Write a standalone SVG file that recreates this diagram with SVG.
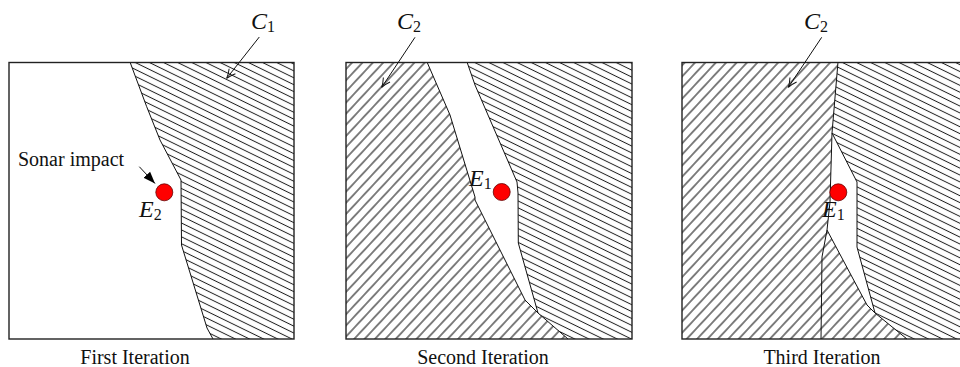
<svg xmlns="http://www.w3.org/2000/svg" width="960" height="367" viewBox="0 0 960 367">
<style>
.box{fill:none;stroke:#222;stroke-width:1.4}
.edge{fill:none;stroke:#111;stroke-width:1}
.dot{fill:#f00;stroke:#600;stroke-width:0.8}
.cap{font-family:"Liberation Serif","Times New Roman",serif;font-size:20px;fill:#111}
.math{font-family:"Liberation Serif","Times New Roman",serif;font-size:24px;fill:#111}
.math .v{font-style:italic}
.math .s{font-size:16px}
.conn{fill:none;stroke:#111;stroke-width:1}
</style>
<defs>
<pattern id="hb" patternUnits="userSpaceOnUse" width="20" height="6.2" patternTransform="rotate(26)">
<line x1="-5" y1="3.1" x2="25" y2="3.1" stroke="#222" stroke-width="1"/>
</pattern>
<pattern id="hf" patternUnits="userSpaceOnUse" width="20" height="7.6" patternTransform="rotate(-47)">
<line x1="-5" y1="3.8" x2="25" y2="3.8" stroke="#1a1a1a" stroke-width="1.1"/>
</pattern>
<marker id="open" markerWidth="12" markerHeight="12" refX="10" refY="6" orient="auto" markerUnits="userSpaceOnUse">
<path d="M1,2 Q6,5 10,6 Q6,7 1,10" fill="none" stroke="#111" stroke-width="1"/>
</marker>
<marker id="solid" markerWidth="14" markerHeight="10" refX="12" refY="5" orient="auto" markerUnits="userSpaceOnUse">
<path d="M0,0.5 L12,5 L0,9.5 Z" fill="#000"/>
</marker>
</defs>
<rect width="960" height="367" fill="#fff"/>

<g id="panel1">
<path fill="url(#hb)" d="M130,62 L136.7,80 L146.7,106.7 L160,140 L181,180 L181.5,245 L207,328 L213,339 L294,339 L294,62 Z"/>
<path class="edge" d="M130,62 L136.7,80 L146.7,106.7 L160,140 L181,180 L181.5,245 L207,328 L213,339"/>
<rect class="box" x="9" y="62.5" width="285" height="276.5"/>
<circle class="dot" cx="164.3" cy="192.3" r="8.5"/>
<text class="math" x="139" y="217"><tspan class="v">E</tspan><tspan class="s" dy="3">2</tspan></text>
<text class="cap" x="18" y="166">Sonar impact</text>
<text class="math" x="251" y="29"><tspan class="v">C</tspan><tspan class="s" dy="3">1</tspan></text>
<text class="cap" x="135" y="364" text-anchor="middle">First Iteration</text>
</g>

<g id="panel2">
<path fill="url(#hf)" d="M346,62 L427,62 L450,115 L475,197 L475,200 L525,300 L538,313 L568,339 L346,339 Z"/>
<path fill="url(#hb)" d="M467,62 L475,85 L517,182 L518,193 L518.3,243 L538,313 L568,339 L632,339 L632,62 Z"/>
<path class="edge" d="M427,62 L450,115 L475,197 L475,200 L525,300 L538,313 L568,339"/>
<path class="edge" d="M467,62 L475,85 L517,182 L518,193 L518.3,243 L538,313"/>
<rect class="box" x="346" y="62.5" width="286" height="276.5"/>
<circle class="dot" cx="501.7" cy="192" r="8.5"/>
<text class="math" x="469" y="186"><tspan class="v">E</tspan><tspan class="s" dy="3">1</tspan></text>
<text class="math" x="397" y="29"><tspan class="v">C</tspan><tspan class="s" dy="3">2</tspan></text>
<text class="cap" x="483" y="364" text-anchor="middle">Second Iteration</text>
</g>

<g id="panel3">
<path fill="url(#hf)" d="M682,62 L838,62 L832,133 L830,202 L827,230 L867,305 L875,313 L907,339 L682,339 Z"/>
<path fill="url(#hb)" d="M838,62 L968,62 L968,339 L907,339 L875,313 L857,247 L857,182 L832,133 Z"/>
<path class="edge" d="M838,62 L832,133 L830,202 L827,230 L822,257 L821,339"/>
<path class="edge" d="M832,133 L857,182 L857,247 L875,313 L907,339"/>
<path class="edge" d="M827,230 L867,305 L875,313"/>
<rect class="box" x="682" y="62.5" width="290" height="276.5"/>
<circle class="dot" cx="838.3" cy="192.3" r="8.5"/>
<text class="math" x="822" y="217"><tspan class="v">E</tspan><tspan class="s" dy="3">1</tspan></text>
<text class="math" x="804" y="29"><tspan class="v">C</tspan><tspan class="s" dy="3">2</tspan></text>
<text class="cap" x="822" y="364" text-anchor="middle">Third Iteration</text>
</g>

<g id="connectors">
<line class="conn" x1="259.3" y1="37" x2="226.7" y2="78.3" marker-end="url(#open)"/>
<line class="conn" x1="415" y1="37.3" x2="381.7" y2="87.3" marker-end="url(#open)"/>
<line class="conn" x1="821.7" y1="37.3" x2="788.3" y2="87.3" marker-end="url(#open)"/>
<line class="conn" x1="139.3" y1="166.7" x2="155" y2="183.5" marker-end="url(#solid)"/>
</g>
</svg>
